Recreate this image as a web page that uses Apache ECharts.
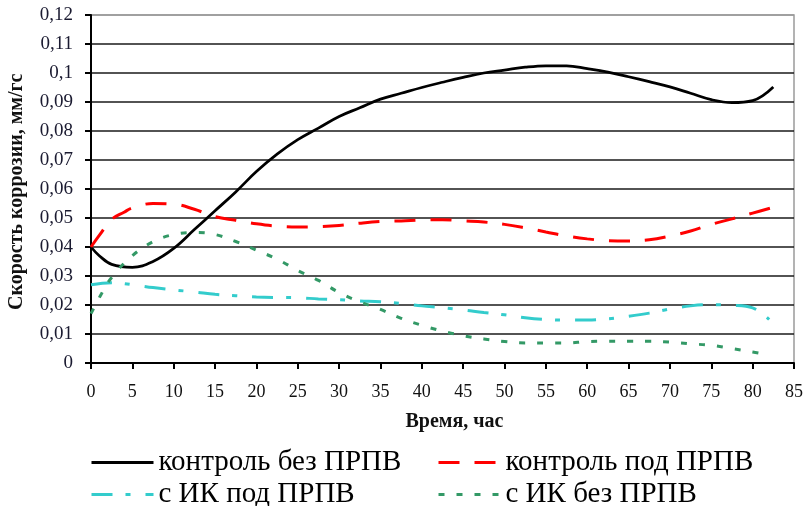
<!DOCTYPE html>
<html><head><meta charset="utf-8">
<script src="https://cdn.jsdelivr.net/npm/echarts@6/dist/echarts.min.js"></script>
<style>html,body{margin:0;padding:0;background:#fff}#c{width:806px;height:506px}</style>
</head><body><div id="c"></div>
<script>
// ---- data ----
const seriesNames = ['контроль без ПРПВ', 'контроль под ПРПВ', 'с ИК под ПРПВ', 'с ИК без ПРПВ'];

const timeBlack = [0,1,2.5,5,7.5,10,12.5,15,17.5,20,22.5,25,27.5,30,32.5,35,37.5,40,42.5,45,47.5,50,52.5,55,57.5,60,62.5,65,67.5,70,72.5,75,77.5,80,82.5];
const valBlack  = [0.040,0.037,0.034,0.033,0.035,0.0395,0.046,0.0525,0.059,0.066,0.072,0.077,0.081,0.085,0.088,0.091,0.093,0.095,0.0968,0.0985,0.1,0.101,0.102,0.1025,0.1025,0.1015,0.1003,0.0987,0.097,0.0952,0.093,0.0908,0.0898,0.0905,0.0952];

const timeRed = [0,1,2.5,4,5,7.5,10,12.5,15,17.5,20,22.5,25,27.5,30,32.5,35,37.5,40,42.5,45,47.5,50,52.5,55,57.5,60,62.5,65,67.5,70,72.5,75,77.5,80,82.5];
const valRed  = [0.040,0.044,0.0495,0.052,0.0535,0.055,0.0548,0.053,0.0505,0.0492,0.048,0.0472,0.0469,0.047,0.0474,0.0482,0.0488,0.049,0.0493,0.0494,0.049,0.0486,0.0478,0.0466,0.0452,0.0438,0.0428,0.0422,0.0421,0.0425,0.0438,0.0455,0.0478,0.0497,0.0517,0.0537];

const timeCyan = [0,2.5,5,7.5,10,12.5,15,17.5,20,22.5,25,27.5,30,32.5,35,37.5,40,42.5,45,47.5,50,52.5,55,57.5,60,62.5,65,67.5,70,72.5,75,77.5,80,82];
const valCyan  = [0.027,0.0277,0.027,0.026,0.0252,0.0245,0.0237,0.0232,0.0228,0.0226,0.0225,0.0221,0.0218,0.0214,0.0211,0.0205,0.0197,0.0191,0.0183,0.0174,0.0166,0.0156,0.015,0.0148,0.0148,0.0152,0.0161,0.0172,0.0186,0.0197,0.0201,0.0199,0.019,0.015];

const timeGreen = [0,1.25,2.5,5,7.5,10,12.5,15,17.5,20,22.5,25,27.5,30,32.5,35,37.5,40,42.5,45,47.5,50,52.5,55,57.5,60,62.5,65,67.5,70,72.5,75,77.5,80,81];
const valGreen  = [0.017,0.0238,0.0295,0.037,0.0418,0.0443,0.045,0.0443,0.0419,0.0389,0.0358,0.0319,0.0285,0.0243,0.0211,0.0185,0.0154,0.013,0.011,0.0094,0.0083,0.0074,0.0069,0.0069,0.0069,0.0074,0.0075,0.0075,0.0075,0.0072,0.0066,0.0061,0.005,0.0038,0.0033];

const yTickLabels = ['0','0,01','0,02','0,03','0,04','0,05','0,06','0,07','0,08','0,09','0,1','0,11','0,12'];
const xTickLabels = ['0','5','10','15','20','25','30','35','40','45','50','55','60','65','70','75','80','85'];
const xAxisTitle = 'Время, час';
const yAxisTitle = 'Скорость коррозии, мм/гс';

// ---- chart ----
const zip = (t, v) => t.map((x, i) => [x, v[i]]);
const serif = '"Liberation Serif", "Times New Roman", serif';
const splitColors = yTickLabels.map((_, i) => i === yTickLabels.length - 1 ? '#9a9a9a' : '#1a1a1a');
const legendCommon = {
  orient: 'vertical', top: 443, height: 90, itemWidth: 62, itemHeight: 14, itemGap: 3,
  itemStyle: {opacity: 0},
  lineStyle: {width: 3},
  textStyle: {fontFamily: serif, fontSize: 29, color: '#000'}
};

const chart = echarts.init(document.getElementById('c'), null, {renderer: 'canvas'});
chart.setOption({
  animation: false,
  backgroundColor: '#fff',
  grid: {left: 91, right: 9, top: 15, bottom: 143, show: true, borderColor: '#9a9a9a', borderWidth: 1.5},
  xAxis: {
    type: 'value', min: 0, max: 85, interval: 5,
    name: xAxisTitle, nameLocation: 'middle', nameGap: 49,
    nameTextStyle: {fontFamily: serif, fontWeight: 'bold', fontSize: 20, color: '#111', padding: [0, 0, 0, 24]},
    axisLine: {onZero: false, lineStyle: {color: '#000', width: 2}},
    axisTick: {show: true, length: 6, lineStyle: {color: '#000', width: 2}},
    axisLabel: {margin: 20, fontFamily: serif, fontSize: 18, color: '#111',
      formatter: v => xTickLabels[Math.round(v / 5)]},
    splitLine: {show: false}
  },
  yAxis: {
    type: 'value', min: 0, max: 0.12, interval: 0.01,
    axisLine: {show: true, lineStyle: {color: '#000', width: 2}},
    axisTick: {show: true, length: 6, lineStyle: {color: '#000', width: 2}},
    axisLabel: {margin: 18, fontFamily: serif, fontSize: 19, color: '#1a1a30',
      formatter: v => yTickLabels[Math.round(v * 100)]},
    splitLine: {show: true, lineStyle: {color: splitColors, width: 1.5}}
  },
  legend: [
    Object.assign({data: [seriesNames[0], seriesNames[2]], left: 85}, legendCommon),
    Object.assign({data: [seriesNames[1], seriesNames[3]], left: 432}, legendCommon)
  ],
  graphic: [{
    type: 'text', x: 16.5, y: 310, rotation: Math.PI / 2,
    style: {text: yAxisTitle, font: 'bold 20px ' + serif, fill: '#111', align: 'left', verticalAlign: 'middle'}
  }],
  series: [
    {name: seriesNames[0], type: 'line', data: zip(timeBlack, valBlack), smooth: 0.4, symbol: 'none',
     lineStyle: {color: '#000', width: 2.75, type: 'solid'}, itemStyle: {color: '#000'}},
    {name: seriesNames[1], type: 'line', data: zip(timeRed, valRed), smooth: 0.4, symbol: 'none',
     lineStyle: {color: '#ff0000', width: 3, type: [21, 15]}, itemStyle: {color: '#ff0000'}},
    {name: seriesNames[2], type: 'line', data: zip(timeCyan, valCyan), smooth: 0.4, symbol: 'none',
     lineStyle: {color: '#33cccc', width: 3, type: [21, 13, 5, 15]}, itemStyle: {color: '#33cccc'}},
    {name: seriesNames[3], type: 'line', data: zip(timeGreen, valGreen), smooth: 0.4, symbol: 'none',
     lineStyle: {color: '#339966', width: 3, type: [6, 12]}, itemStyle: {color: '#339966'}}
  ]
});
</script>
</body></html>
